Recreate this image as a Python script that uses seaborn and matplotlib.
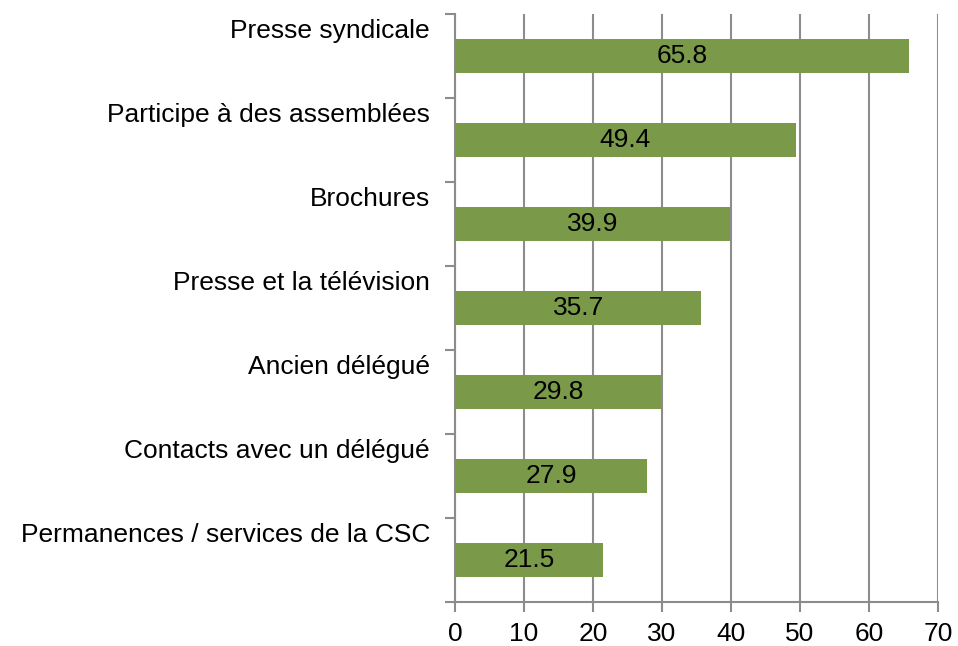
import matplotlib
matplotlib.use("Agg")
import matplotlib.pyplot as plt
import matplotlib.transforms as mtransforms
import seaborn as sns
import pandas as pd

categories = [
    "Presse syndicale",
    "Participe à des assemblées",
    "Brochures",
    "Presse et la télévision",
    "Ancien délégué",
    "Contacts avec un délégué",
    "Permanences / services de la CSC",
]
values = [65.8, 49.4, 39.9, 35.7, 29.8, 27.9, 21.5]
x_ticks = [0, 10, 20, 30, 40, 50, 60, 70]

df = pd.DataFrame({"cat": categories, "val": values})

sns.set_theme(style="white")
plt.rcParams["font.family"] = ["Liberation Sans", "DejaVu Sans"]

fig = plt.figure(figsize=(9.58, 6.46), dpi=100)
ax = fig.add_axes([0.475, 0.068, 0.979 - 0.475, 0.978 - 0.068])

sns.barplot(data=df, x="val", y="cat", orient="h", color="#7A9A4A",
            saturation=1, width=0.4, ax=ax, zorder=3, linewidth=0, edgecolor="none")

grid_c = "#8C8C8C"
fs = 19
ax.set_xlim(0, 70)
ax.set_ylim(len(categories) - 0.5, -0.5)
ax.set_xticks(x_ticks)
ax.set_xticklabels([str(t) for t in x_ticks], fontsize=fs, color="black")
ax.xaxis.grid(True, color=grid_c, linewidth=1.5, zorder=0)
ax.set_axisbelow(True)

ax.set_yticks(range(len(categories)))
ax.set_yticklabels(categories, fontsize=fs, color="black")
ax.set_yticks([i - 0.5 for i in range(len(categories) + 1)], minor=True)
ax.tick_params(axis="y", which="major", length=0, pad=18)
ax.tick_params(axis="y", which="minor", length=7, width=1.5, color=grid_c, left=True)
ax.tick_params(axis="x", which="major", length=7, width=1.5, color=grid_c, bottom=True, pad=7)

offset = mtransforms.ScaledTranslation(0, 0.28, fig.dpi_scale_trans)
for lbl in ax.get_yticklabels():
    lbl.set_transform(lbl.get_transform() + offset)

for s in ["top", "right"]:
    ax.spines[s].set_visible(False)
for s in ["left", "bottom"]:
    ax.spines[s].set_color(grid_c)
    ax.spines[s].set_linewidth(1.5)

ax.set_xlabel("")
ax.set_ylabel("")

down = mtransforms.ScaledTranslation(0, -0.02, fig.dpi_scale_trans)
for c in ax.containers:
    texts = ax.bar_label(c, labels=[f"{v:.1f}" for v in values], label_type="center",
                         fontsize=fs, color="black")
    for t in texts:
        t.set_transform(t.get_transform() + down)

fig.savefig("out.png", dpi=100)
